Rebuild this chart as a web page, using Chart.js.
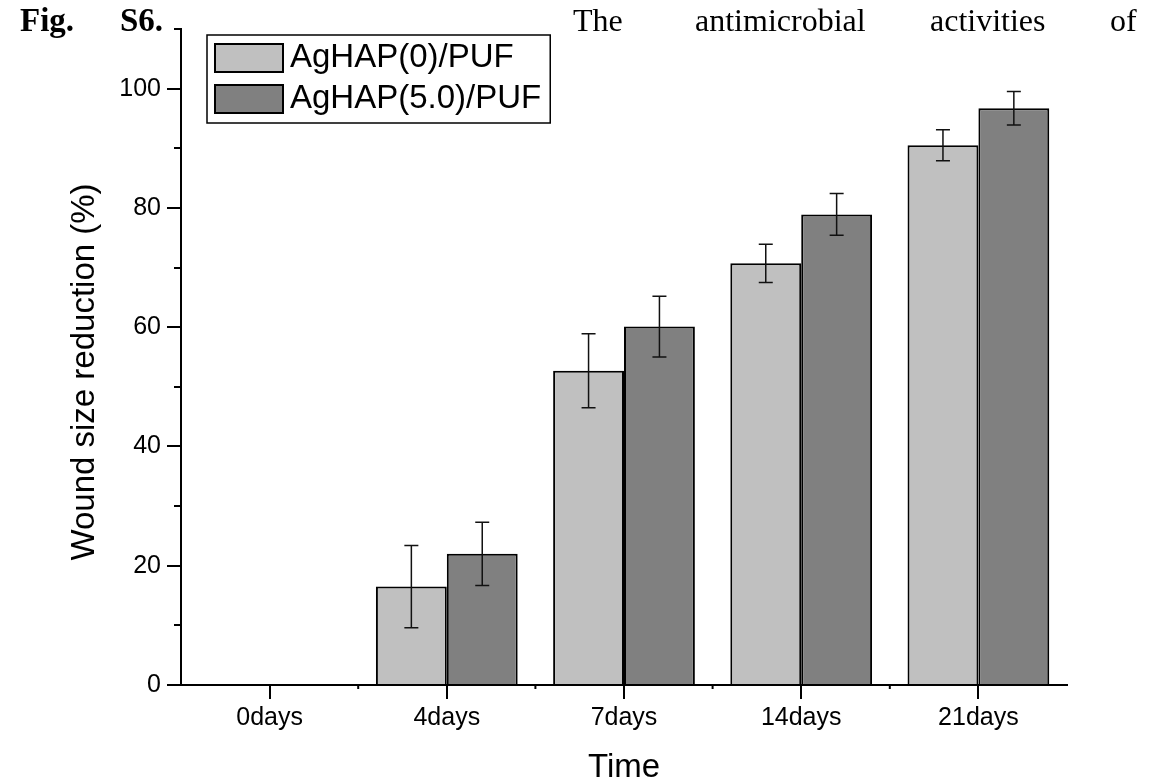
<!DOCTYPE html>
<html>
<head>
<meta charset="utf-8">
<script src="https://cdn.jsdelivr.net/npm/chart.js@4.4.0/dist/chart.umd.min.js"></script>
<style>
  body { margin: 0; background: #fff; }
  #wrap { position: relative; width: 1160px; height: 783px; }
</style>
</head>
<body>
<div id="wrap"><canvas id="grafico" width="1160" height="783"></canvas></div>
<script>
// datos
const categorias = ["0days", "4days", "7days", "14days", "21days"];
const serieAg0 = [0, 16.5, 52.7, 70.7, 90.5];
const errAg0 = [0, 6.9, 6.2, 3.2, 2.6];
const serieAg5 = [0, 22.0, 60.1, 78.9, 96.7];
const errAg5 = [0, 5.3, 5.1, 3.5, 2.8];
const ticksY = [0, 20, 40, 60, 80, 100];
const ticksYMenores = [10, 30, 50, 70, 90, 110];
const etiquetas = ["AgHAP(0)/PUF", "AgHAP(5.0)/PUF"];
const colores = ["#c0c0c0", "#808080"];

const FUENTE = "'Liberation Sans', Arial, sans-serif";
const SERIF = "'Liberation Serif', 'Times New Roman', serif";
const errores = [errAg0, errAg5];

// dibuja barras de error, ticks menores, leyenda y textos
const decorado = {
  id: "decorado",
  afterDatasetsDraw(chart) {
    const ctx = chart.ctx;
    const y = chart.scales.y;
    ctx.save();
    ctx.strokeStyle = "#111";
    ctx.lineWidth = 1.5;
    chart.data.datasets.forEach((ds, i) => {
      const meta = chart.getDatasetMeta(i);
      meta.data.forEach((bar, j) => {
        const e = errores[i][j];
        if (!e) return;
        const v = ds.data[j];
        const yTop = y.getPixelForValue(v + e);
        const yBot = y.getPixelForValue(v - e);
        ctx.beginPath();
        ctx.moveTo(bar.x, yTop); ctx.lineTo(bar.x, yBot);
        ctx.moveTo(bar.x - 7, yTop); ctx.lineTo(bar.x + 7, yTop);
        ctx.moveTo(bar.x - 7, yBot); ctx.lineTo(bar.x + 7, yBot);
        ctx.stroke();
      });
    });
    ctx.restore();
  },
  afterDraw(chart) {
    const ctx = chart.ctx;
    const area = chart.chartArea;
    const x = chart.scales.x;
    const y = chart.scales.y;
    ctx.save();
    ctx.strokeStyle = "#000";
    ctx.lineWidth = 2;
    // ticks menores eje y
    ticksYMenores.forEach(v => {
      const py = Math.round(y.getPixelForValue(v));
      ctx.beginPath();
      ctx.moveTo(area.left - 7, py); ctx.lineTo(area.left, py);
      ctx.stroke();
    });
    // ticks menores eje x (entre categorias)
    for (let i = 0; i < categorias.length - 1; i++) {
      const px = (x.getPixelForTick(i) + x.getPixelForTick(i + 1)) / 2;
      ctx.beginPath();
      ctx.moveTo(px, area.bottom); ctx.lineTo(px, area.bottom + 4);
      ctx.stroke();
    }

    // leyenda
    ctx.font = "33px " + FUENTE;
    const anchoTexto = Math.max(...etiquetas.map(t => ctx.measureText(t).width));
    ctx.lineWidth = 1.5;
    ctx.strokeRect(207, 35, 290 - 207 + anchoTexto + 9, 88);
    ctx.textBaseline = "alphabetic";
    ctx.textAlign = "left";
    etiquetas.forEach((t, i) => {
      const top = 44 + i * 41;
      ctx.fillStyle = colores[i];
      ctx.fillRect(215, top, 68, 28);
      ctx.lineWidth = 2;
      ctx.strokeRect(215, top, 68, 28);
      ctx.fillStyle = "#000";
      ctx.fillText(t, 290, top + 23);
    });

    // titulos de ejes
    ctx.font = "33px " + FUENTE;
    ctx.textAlign = "center";
    ctx.fillText("Time", (area.left + area.right) / 2, 777);
    ctx.translate(94, 372);
    ctx.rotate(-Math.PI / 2);
    ctx.fillText("Wound size reduction (%)", 0, 0);
    ctx.restore();

    // pie de figura
    ctx.save();
    ctx.fillStyle = "#000";
    ctx.textBaseline = "alphabetic";
    ctx.textAlign = "left";
    ctx.font = "bold 33px " + SERIF;
    ctx.fillText("Fig.", 20, 31);
    ctx.fillText("S6.", 120, 31);
    ctx.font = "32px " + SERIF;
    ctx.fillText("The", 573, 31);
    ctx.fillText("antimicrobial", 695, 31);
    ctx.fillText("activities", 930, 31);
    ctx.fillText("of", 1110, 31);
    ctx.restore();
  }
};

function initGrafico() {
  const ctx = document.getElementById("grafico").getContext("2d");
  new Chart(ctx, {
    type: "bar",
    data: {
      labels: categorias,
      datasets: [
        {
          label: etiquetas[0],
          data: serieAg0,
          backgroundColor: colores[0],
          borderColor: "#000",
          borderWidth: 2,
          categoryPercentage: 0.8,
          barPercentage: 1.0
        },
        {
          label: etiquetas[1],
          data: serieAg5,
          backgroundColor: colores[1],
          borderColor: "#000",
          borderWidth: 2,
          categoryPercentage: 0.8,
          barPercentage: 1.0
        }
      ]
    },
    options: {
      responsive: false,
      animation: false,
      devicePixelRatio: 1,
      layout: { padding: { top: 29, right: 93, left: 0, bottom: 0 } },
      plugins: {
        legend: { display: false },
        tooltip: { enabled: false }
      },
      scales: {
        x: {
          offset: true,
          afterFit: s => { s.height = 98; },
          grid: {
            drawOnChartArea: false,
            offset: false,
            tickLength: 14,
            color: "#000",
            lineWidth: 2
          },
          border: { color: "#000", width: 2 },
          ticks: { color: "#000", padding: 4, font: { family: FUENTE, size: 25 } }
        },
        y: {
          min: 0,
          max: 110,
          afterFit: s => { s.width = 181; },
          afterBuildTicks: s => { s.ticks = ticksY.map(v => ({ value: v })); },
          grid: {
            drawOnChartArea: false,
            tickLength: 14,
            color: "#000",
            lineWidth: 2
          },
          border: { color: "#000", width: 2 },
          ticks: { color: "#000", padding: 6, font: { family: FUENTE, size: 25 } }
        }
      }
    },
    plugins: [decorado]
  });
}

window.addEventListener("DOMContentLoaded", () => {
  initGrafico();
});
</script>
</body>
</html>
